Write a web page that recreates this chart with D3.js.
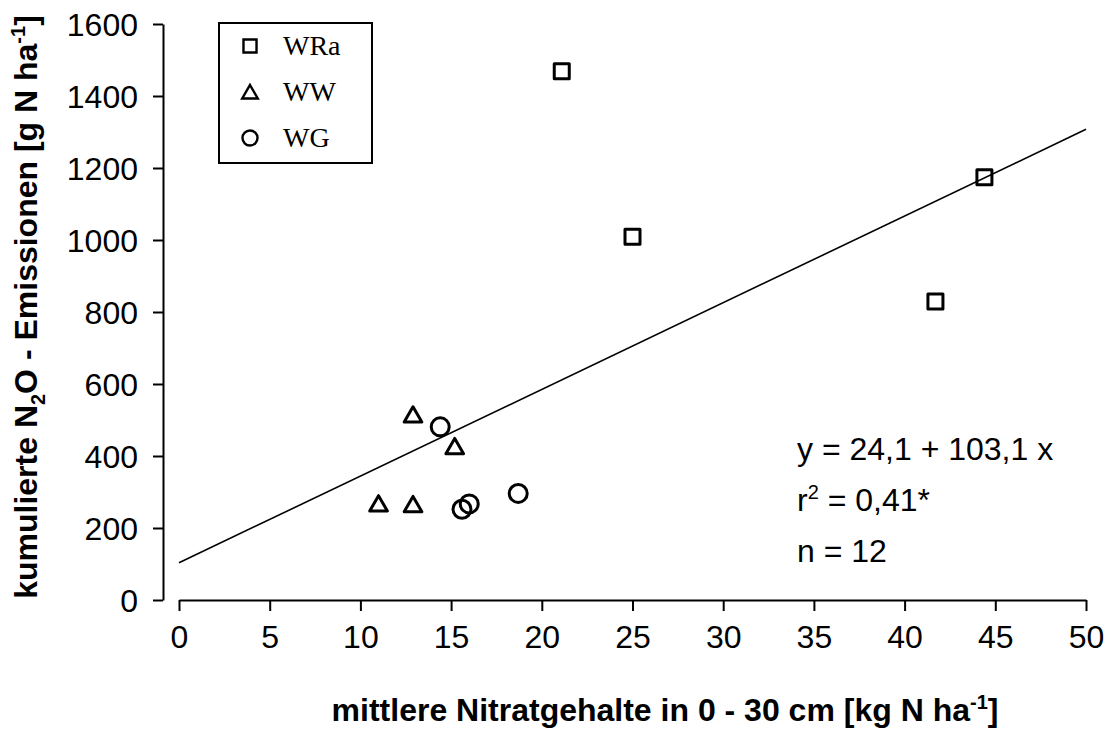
<!DOCTYPE html>
<html>
<head>
<meta charset="utf-8">
<script src="https://cdn.jsdelivr.net/npm/d3@7"></script>
<style>
  body { margin: 0; background: #fff; }
  svg { display: block; font-family: Arial, "Liberation Sans", sans-serif; }
</style>
</head>
<body>
<svg id="chart" width="1109" height="731"></svg>
<script>
// data
const groups = ["WRa", "WW", "WG"]
const wraX = [21.1, 25.0, 44.4, 41.7]
const wraY = [1469, 1009, 1174, 829]
const wwX = [12.9, 15.2, 11.0, 12.9]
const wwY = [514, 426, 267, 265]
const wgX = [14.4, 16.0, 15.6, 18.7]
const wgY = [481, 267, 252, 296]
const xTicks = [0, 5, 10, 15, 20, 25, 30, 35, 40, 45, 50]
const yTicks = [0, 200, 400, 600, 800, 1000, 1200, 1400, 1600]
const fitIntercept = 103.4
const fitSlope = 24.08
const statLines = ["y = 24,1 + 103,1 x", "r2 = 0,41*", "n = 12"]

const svg = d3.select("#chart")
const margins = {left: 163, right: 23, top: 24, bottom: 131}
const width = 1109, height = 731

const scaleX = d3.scaleLinear().domain([0, 50]).range([179, 1086])
const scaleY = d3.scaleLinear().domain([0, 1600]).range([height - margins.bottom, margins.top])

// axes
let xAxis = d3.axisBottom(scaleX).tickValues(xTicks).tickFormat(d3.format("d"))
    .tickSize(11).tickSizeOuter(0).tickPadding(14)
let yAxis = d3.axisLeft(scaleY).tickValues(yTicks).tickFormat(d3.format("d"))
    .tickSize(10).tickSizeOuter(0).tickPadding(15)

let gx = svg.append("g").attr("transform", `translate(0, ${scaleY(0)})`).call(xAxis)
let gy = svg.append("g").attr("transform", `translate(${margins.left}, 0)`).call(yAxis)

for (let g of [gx, gy]) {
    g.select(".domain").attr("stroke", "#000").attr("stroke-width", 2)
    g.selectAll(".tick line").attr("stroke", "#000").attr("stroke-width", 2)
    g.selectAll(".tick text").attr("fill", "#000").attr("font-size", 32)
        .attr("font-family", "Arial, 'Liberation Sans', sans-serif")
}
gx.selectAll(".tick text").attr("dy", "0.71em")
gy.selectAll(".tick text").attr("dy", "0.35em")

// axis titles
let xt = svg.append("text")
    .attr("x", 665).attr("y", 721)
    .attr("text-anchor", "middle").attr("font-size", 32).attr("font-weight", "bold")
xt.append("tspan").text("mittlere Nitratgehalte in 0 - 30 cm [kg N ha")
xt.append("tspan").attr("font-size", 20).attr("dy", -12).text("-1")
xt.append("tspan").attr("dy", 12).text("]")

let yt = svg.append("text")
    .attr("transform", `translate(37, 307) rotate(-90)`)
    .attr("text-anchor", "middle").attr("font-size", 32).attr("font-weight", "bold")
yt.append("tspan").text("kumulierte N")
yt.append("tspan").attr("font-size", 20).attr("dy", 8).text("2")
yt.append("tspan").attr("dy", -8).text("O - Emissionen [g N ha")
yt.append("tspan").attr("font-size", 20).attr("dy", -12).text("-1")
yt.append("tspan").attr("dy", 12).text("]")

// regression line
let lineGen = d3.line().x(d => scaleX(d)).y(d => scaleY(fitIntercept + fitSlope * d))
svg.append("path")
    .datum([0, 50])
    .attr("d", lineGen)
    .attr("fill", "none")
    .attr("stroke", "#000")
    .attr("stroke-width", 1.6)

// points
const series = [
    {name: "WRa", xs: wraX, ys: wraY, type: d3.symbolSquare, size: 225, legendSize: 170},
    {name: "WW", xs: wwX, ys: wwY, type: d3.symbolTriangle, size: 135, legendSize: 105},
    {name: "WG", xs: wgX, ys: wgY, type: "circle", size: 9, legendSize: 7.5}
]

series.forEach(s => {
    let pts = s.xs.map((x, i) => ({x: x, y: s.ys[i]}))
    if (s.type === "circle") {
        svg.append("g").selectAll("circle")
            .data(pts).join("circle")
            .attr("cx", d => scaleX(d.x)).attr("cy", d => scaleY(d.y)).attr("r", s.size)
            .attr("fill", "none").attr("stroke", "#000").attr("stroke-width", 3)
    } else {
        let sym = d3.symbol().type(s.type).size(s.size)
        let dy = s.type === d3.symbolTriangle ? 2 : 0
        svg.append("g").selectAll("path")
            .data(pts).join("path")
            .attr("d", sym)
            .attr("transform", d => `translate(${scaleX(d.x)}, ${scaleY(d.y) + dy})`)
            .attr("fill", "none").attr("stroke", "#000").attr("stroke-width", 3)
            .attr("stroke-linejoin", "round")
    }
})

// legend
let legend = svg.append("g")
legend.append("rect")
    .attr("x", 219).attr("y", 23).attr("width", 153).attr("height", 140)
    .attr("fill", "#fff").attr("stroke", "#000").attr("stroke-width", 2)

series.forEach((s, i) => {
    let cy = 46 + i * 46
    if (s.type === "circle") {
        legend.append("circle").attr("cx", 250).attr("cy", cy).attr("r", s.legendSize)
            .attr("fill", "none").attr("stroke", "#000").attr("stroke-width", 2.4)
    } else {
        legend.append("path")
            .attr("d", d3.symbol().type(s.type).size(s.legendSize))
            .attr("transform", `translate(250, ${cy + (s.type === d3.symbolTriangle ? 2 : 0)})`)
            .attr("fill", "none").attr("stroke", "#000").attr("stroke-width", 2.4)
    }
    legend.append("text")
        .attr("x", 283).attr("y", cy + 9)
        .attr("font-family", "'Liberation Serif', 'Times New Roman', serif")
        .attr("font-size", 28)
        .text(groups[i])
})

// fit statistics
let stats = svg.append("g").attr("font-size", 32)
stats.append("text").attr("x", 797).attr("y", 460).text(statLines[0])
let r2 = stats.append("text").attr("x", 797).attr("y", 511)
r2.append("tspan").text("r")
r2.append("tspan").attr("font-size", 20).attr("dy", -12).text("2")
r2.append("tspan").attr("dy", 12).text(" = 0,41*")
stats.append("text").attr("x", 797).attr("y", 562).text(statLines[2])
</script>
</body>
</html>
